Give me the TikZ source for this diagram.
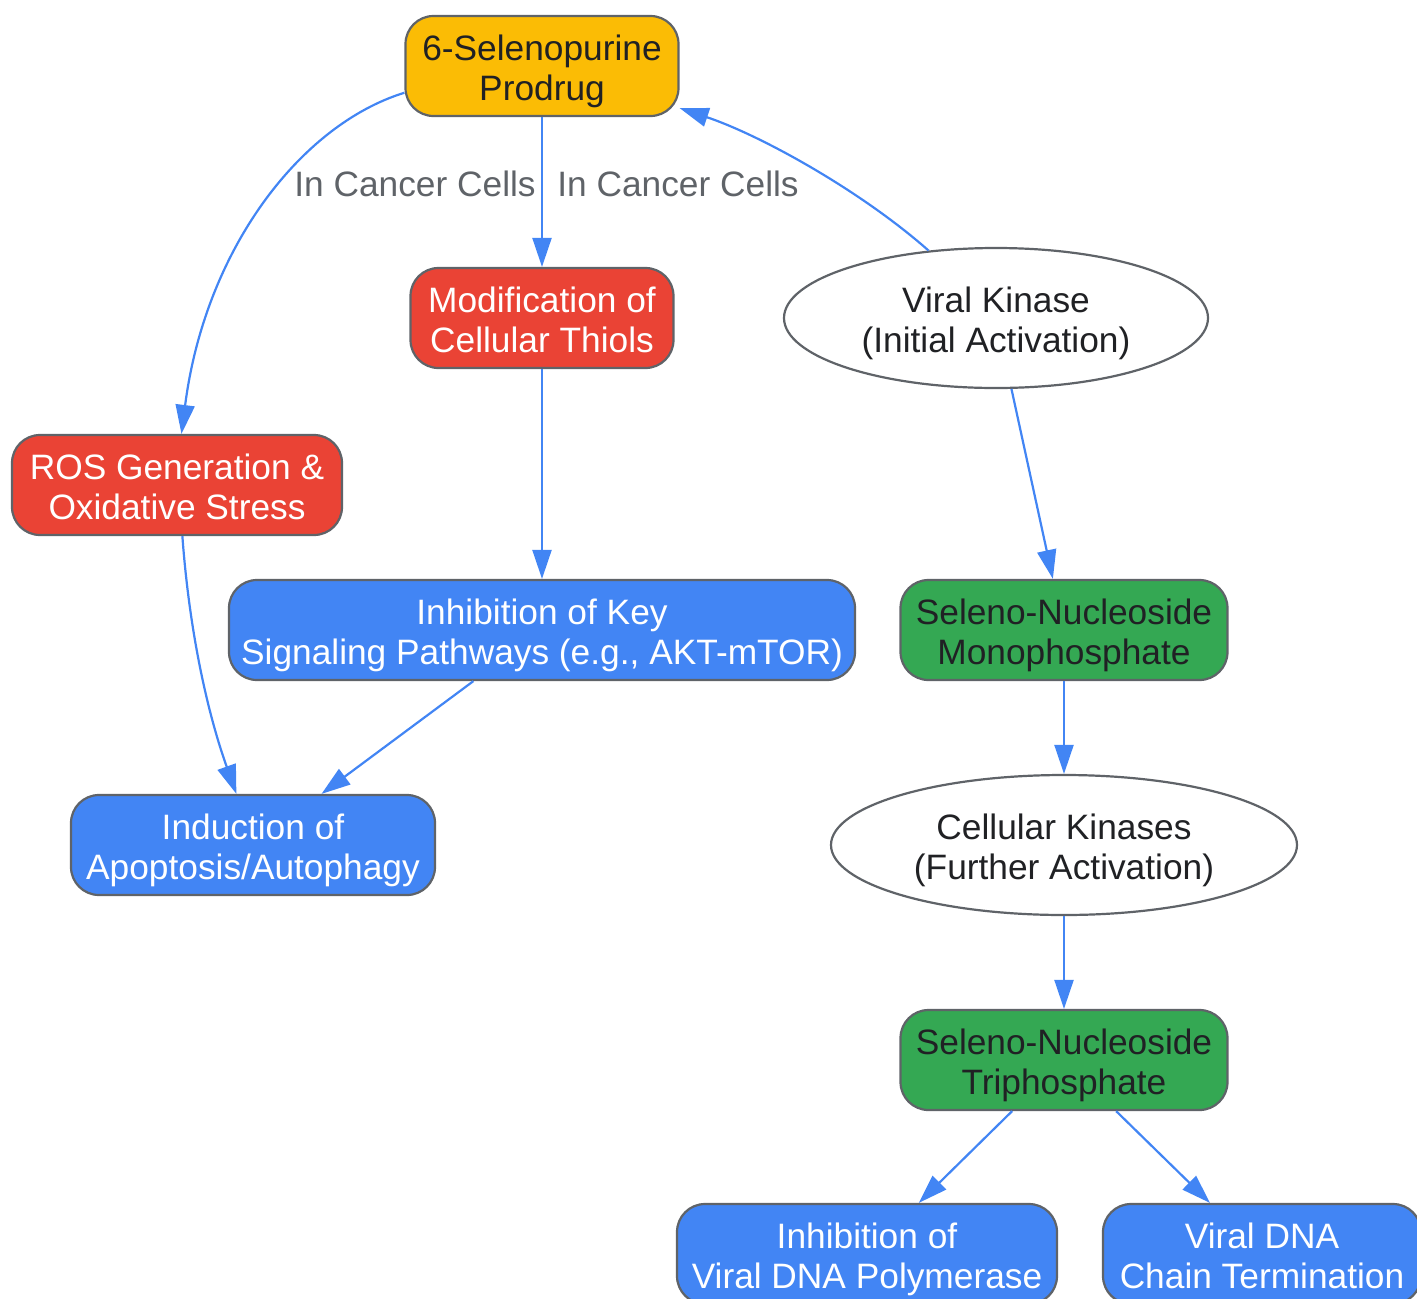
\documentclass[tikz,border=0pt]{standalone}
\usepackage{fontspec}
\setmainfont{Liberation Sans}
\usetikzlibrary{shapes.geometric,arrows.meta}
\definecolor{cyel}{HTML}{FBBC05}
\definecolor{cred}{HTML}{EA4335}
\definecolor{cblue}{HTML}{4285F4}
\definecolor{cgreen}{HTML}{34A853}
\definecolor{cborder}{HTML}{5F6368}
\definecolor{ctext}{HTML}{202124}
\definecolor{clabel}{HTML}{5F6368}
\newcommand{\topstrut}{\rule{0pt}{36pt}}
\newcommand{\botstrut}{\rule[-8pt]{0pt}{0pt}}
\tikzset{
  box/.style={draw=cborder, line width=2.2pt, rounded corners=28pt, align=center,
    minimum height=100pt, inner sep=0pt, font=\fontsize{35.3}{40}\selectfont},
  yelbox/.style={box, fill=cyel, text=ctext},
  redbox/.style={box, fill=cred, text=white},
  bluebox/.style={box, fill=cblue, text=white},
  greenbox/.style={box, fill=cgreen, text=ctext},
  oval/.style={ellipse, draw=cborder, line width=2.2pt, fill=white, text=ctext, align=center,
    inner sep=0pt, font=\fontsize{35.3}{40}\selectfont},
  lbl/.style={text=clabel, font=\fontsize{35.3}{40}\selectfont, inner sep=0pt},
  edge/.style={draw=cblue, line width=2.2pt, -{Triangle[length=29pt,width=19pt]}},
}
\begin{document}
\begin{tikzpicture}[x=1pt,y=-1pt]
\useasboundingbox (0,0) rectangle (1417,1299);
% nodes
\node[yelbox, minimum width=273pt] (prod) at (542,66) {\topstrut 6-Selenopurine\\Prodrug\botstrut};
\node[redbox, minimum width=263pt] (thiol) at (542,318) {\topstrut Modification of\\Cellular Thiols\botstrut};
\node[redbox, minimum width=330pt] (ros) at (177,485) {\topstrut ROS Generation \&\\Oxidative Stress\botstrut};
\node[oval, minimum width=424pt, minimum height=140pt] (vk) at (996,318) {\topstrut Viral Kinase\\(Initial Activation)\botstrut};
\node[bluebox, minimum width=626pt] (key) at (542,630) {\topstrut Inhibition of Key\\Signaling Pathways (e.g., AKT-mTOR)\botstrut};
\node[greenbox, minimum width=327pt] (mono) at (1064,630) {\topstrut Seleno-Nucleoside\\Monophosphate\botstrut};
\node[bluebox, minimum width=364pt] (apop) at (253,845) {\topstrut Induction of\\Apoptosis/Autophagy\botstrut};
\node[oval, minimum width=466pt, minimum height=140pt] (ck) at (1064,845) {\topstrut Cellular Kinases\\(Further Activation)\botstrut};
\node[greenbox, minimum width=327pt] (tri) at (1064,1060) {\topstrut Seleno-Nucleoside\\Triphosphate\botstrut};
\node[bluebox, minimum width=380pt] (pol) at (867,1254) {\topstrut Inhibition of\\Viral DNA Polymerase\botstrut};
\node[bluebox, minimum width=318pt] (chain) at (1262,1254) {\topstrut Viral DNA\\Chain Termination\botstrut};
% labels
\node[lbl] (l1) at (415,184) {In Cancer Cells};
\node[lbl] (l2) at (678,184) {In Cancer Cells};
% edges
\draw[edge] (prod.191) .. controls (300,125) and (205,250) .. (ros.85);
\draw[edge] (prod) -- (thiol);
\draw[edge] (vk.135) .. controls (860,190) and (760,135) .. (prod.-17);
\draw[edge] (thiol) -- (key);
\draw[edge] (ros.-84) .. controls (190,640) and (210,720) .. (apop.108);
\draw[edge] (key) -- (apop);
\draw[edge] (vk) -- (mono);
\draw[edge] (mono) -- (ck);
\draw[edge] (ck) -- (tri);
\draw[edge] (tri) -- (pol);
\draw[edge] (tri) -- (chain);
\end{tikzpicture}
\end{document}
